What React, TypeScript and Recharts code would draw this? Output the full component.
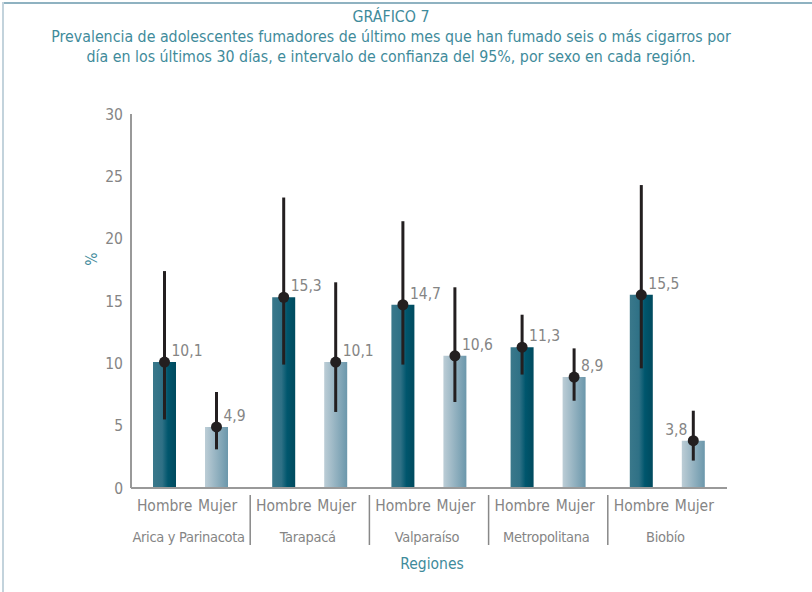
import React from 'react';
import { ComposedChart, Bar, XAxis, YAxis, ErrorBar, LabelList } from 'recharts';

// datos
const regiones = ['Arica y Parinacota', 'Tarapacá', 'Valparaíso', 'Metropolitana', 'Biobío'];
const hombre = [10.1, 15.3, 14.7, 11.3, 15.5];
const hombreInf = [5.5, 9.9, 9.9, 9.1, 9.6];
const hombreSup = [17.4, 23.3, 21.4, 13.9, 24.3];
const mujer = [4.9, 10.1, 10.6, 8.9, 3.8];
const mujerInf = [3.1, 6.1, 6.9, 7.0, 2.2];
const mujerSup = [7.7, 16.5, 16.1, 11.2, 6.2];
const yTicks = [0, 5, 10, 15, 20, 25, 30];

const data = regiones.map((region, i) => ({
    region,
    hombre: hombre[i],
    mujer: mujer[i],
    hombreErr: [hombre[i] - hombreInf[i], hombreSup[i] - hombre[i]],
    mujerErr: [mujer[i] - mujerInf[i], mujerSup[i] - mujer[i]],
}));

const FONT = "'Liberation Sans Narrow', 'DejaVu Sans Condensed', 'Roboto', sans-serif";
const TEAL = '#3f8b9b';
const GRAY = '#858585';

const fmt = (v: number) => v.toFixed(1).replace('.', ',');

const PointLabel = (props: any) => {
    const { x, y, width, value, index, left } = props;
    const cx = x + width / 2;
    const toLeft = left && left.includes(index);
    return (
        <g>
            <circle cx={cx} cy={y} r={5.5} fill="#231f20" />
            <text
                x={toLeft ? cx - 6 : cx + 7}
                y={y - 6}
                textAnchor={toLeft ? 'end' : 'start'}
                fontSize={15.5}
                fill={GRAY}
                fontFamily={FONT}
            >
                {fmt(value)}
            </text>
        </g>
    );
};

const RegionTick = (props: any) => {
    const { x, y, payload, index } = props;
    const half = payload.offset || 59.6;
    return (
        <g>
            <text x={x - 26} y={y + 15} textAnchor="middle" fontSize={15.5} fill={GRAY} fontFamily={FONT}>Hombre</text>
            <text x={x + 27} y={y + 15} textAnchor="middle" fontSize={15.5} fill={GRAY} fontFamily={FONT}>Mujer</text>
            <text x={x - 2} y={y + 46} textAnchor="middle" fontSize={14.5} letterSpacing={-0.3} fill={GRAY} fontFamily={FONT}>{payload.value}</text>
            {index < regiones.length - 1 && (
                <line x1={x + half} x2={x + half} y1={y - 1} y2={y + 49} stroke="#888" strokeWidth={1.5} />
            )}
        </g>
    );
};

const App: React.FC = () => {
    return (
        <div style={{ position: 'absolute', left: 0, top: 0, width: 812, height: 592, background: '#fff', fontFamily: FONT }}>
            <div style={{ position: 'absolute', left: 2, top: 2, width: 812, height: 2, background: '#8fb2c1' }} />
            <div style={{ position: 'absolute', left: 2, top: 2, width: 2, height: 590, background: '#c3d3dc' }} />
            <div style={{ position: 'absolute', left: 0, top: 7, width: 782, textAlign: 'center', color: TEAL, fontSize: 15.8, lineHeight: '20px' }}>
                <div>GRÁFICO 7</div>
                <div>Prevalencia de adolescentes fumadores de último mes que han fumado seis o más cigarros por</div>
                <div>día en los últimos 30 días, e intervalo de confianza del 95%, por sexo en cada región.</div>
            </div>
            <ComposedChart
                width={812}
                height={592}
                data={data}
                margin={{ top: 114, right: 85, bottom: 0, left: 91 }}
                barGap={29}
                barCategoryGap={0}
            >
                <defs>
                    <linearGradient id="gradHombre" x1="0" y1="0" x2="1" y2="0">
                        <stop offset="0%" stopColor="#3a788b" />
                        <stop offset="40%" stopColor="#2f7186" />
                        <stop offset="65%" stopColor="#00566d" />
                        <stop offset="100%" stopColor="#004a5e" />
                    </linearGradient>
                    <linearGradient id="gradMujer" x1="0" y1="0" x2="1" y2="0">
                        <stop offset="0%" stopColor="#bccdd6" />
                        <stop offset="100%" stopColor="#6b97ab" />
                    </linearGradient>
                </defs>
                <XAxis
                    dataKey="region"
                    axisLine={{ stroke: '#999', strokeWidth: 2 }}
                    tickLine={false}
                    interval={0}
                    tick={<RegionTick />}
                    height={104}
                />
                <YAxis
                    domain={[0, 30]}
                    ticks={yTicks}
                    width={40}
                    axisLine={{ stroke: '#999', strokeWidth: 2 }}
                    tickLine={false}
                    tick={{ fontSize: 15.5, fill: GRAY, fontFamily: FONT }}
                    tickMargin={2}
                />
                <Bar dataKey="hombre" barSize={23} fill="url(#gradHombre)" isAnimationActive={false}>
                    <ErrorBar dataKey="hombreErr" width={0} stroke="#231f20" strokeWidth={3} direction="y" />
                    <LabelList dataKey="hombre" content={<PointLabel left={[]} />} />
                </Bar>
                <Bar dataKey="mujer" barSize={23} fill="url(#gradMujer)" isAnimationActive={false}>
                    <ErrorBar dataKey="mujerErr" width={0} stroke="#231f20" strokeWidth={3} direction="y" />
                    <LabelList dataKey="mujer" content={<PointLabel left={[4]} />} />
                </Bar>
            </ComposedChart>
            <div style={{ position: 'absolute', left: 82, top: 250, width: 20, transform: 'rotate(-90deg)', color: TEAL, fontSize: 15.5, textAlign: 'center' }}>%</div>
            <div style={{ position: 'absolute', left: 382, top: 555, width: 100, textAlign: 'center', color: TEAL, fontSize: 15.5 }}>Regiones</div>
        </div>
    );
};

export default App;
